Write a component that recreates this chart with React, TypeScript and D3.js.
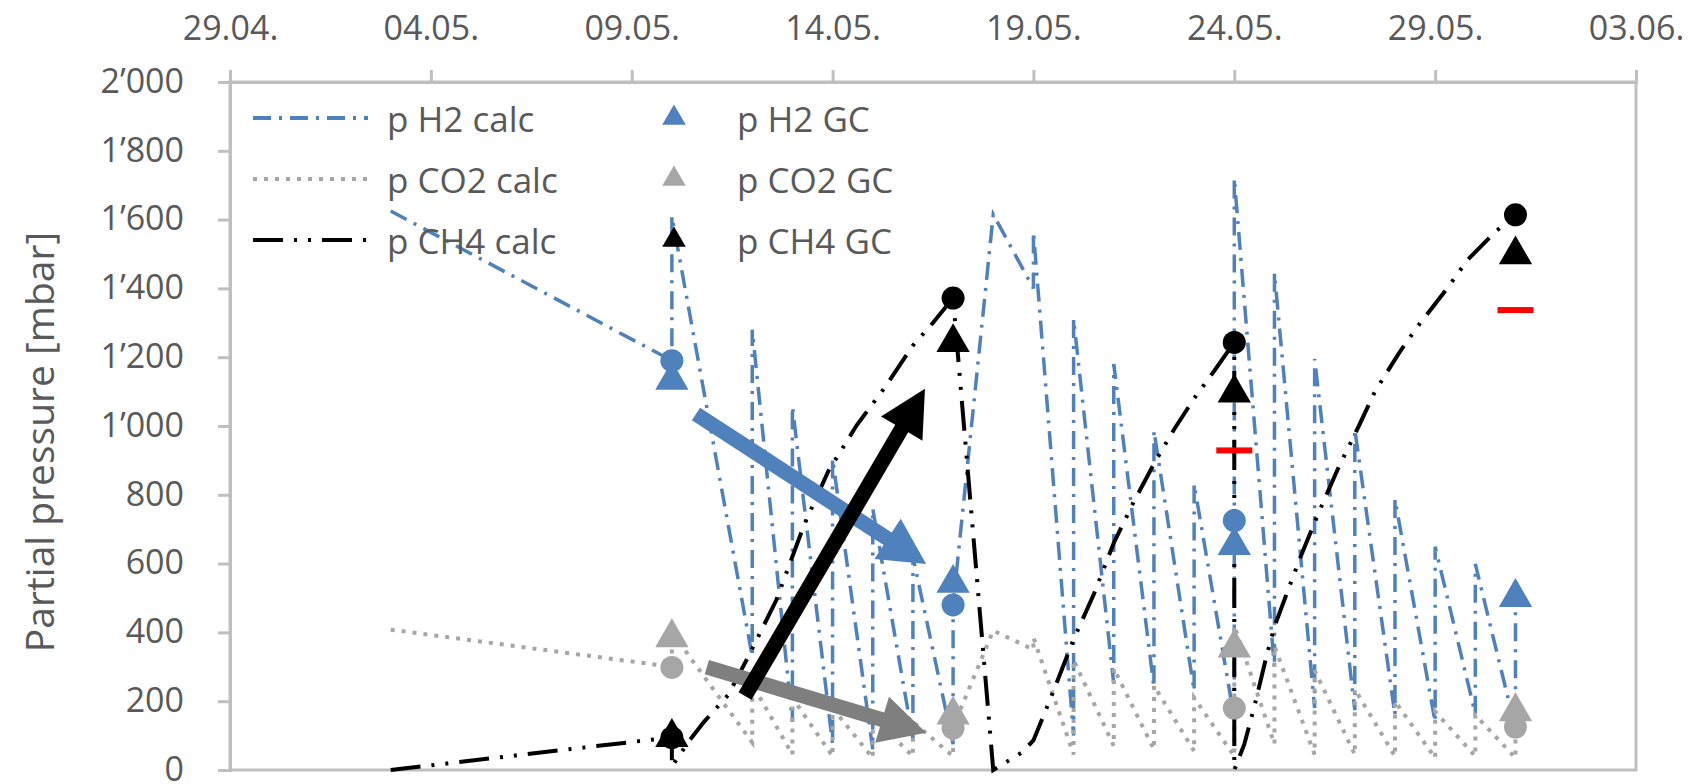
import React, { useEffect, useRef } from "react";
import * as d3 from "d3";

// all x values are days counted from 29.04.
const dateTicks = [0, 5, 10, 15, 20, 25, 30, 35];
const dateLabels = ["29.04.", "04.05.", "09.05.", "14.05.", "19.05.", "24.05.", "29.05.", "03.06."];
const pressureTicks = [0, 200, 400, 600, 800, 1000, 1200, 1400, 1600, 1800, 2000];

// calculated partial pressures [day, mbar]
const h2Calc = [
  [4, 1625], [11, 1190], [11, 1610], [13, 330], [13, 1280], [14, 140], [14, 1057],
  [15, 75], [15, 905], [16, 60], [16, 760], [17, 90], [17, 620], [18, 75], [18, 480],
  [19, 1615], [20, 1400], [20, 1565], [21, 100], [21, 1311], [22, 250], [22, 1180],
  [23, 240], [23, 986], [24, 230], [24, 831], [25, 150], [25, 1720], [26, 296], [26, 1444],
  [27, 180], [27, 1195], [28, 174], [28, 990], [29, 160], [29, 787], [30, 140], [30, 649],
  [31, 163], [31, 599], [32, 120], [32, 470],
];
const co2Calc = [
  [4, 408], [11, 300], [11, 400], [13, 80], [13, 250], [14, 45], [14, 210], [15, 40], [15, 180],
  [16, 35], [16, 155], [17, 40], [17, 140], [18, 40], [18, 125], [19, 405], [20, 350], [20, 385],
  [21, 45], [21, 320], [22, 70], [22, 295], [23, 60], [23, 245], [24, 55], [24, 210], [25, 40],
  [25, 180], [25, 420], [26, 75], [26, 360], [27, 45], [27, 290], [28, 45], [28, 235], [29, 40],
  [29, 200], [30, 35], [30, 170], [31, 40], [31, 160], [32, 35], [32, 125],
];
const ch4Calc = [
  [4, 0], [11, 95], [11, 10], [11.4, 80], [11.8, 140], [12.4, 218], [12.9, 329], [13.6, 494],
  [14.3, 715], [14.9, 870], [15.6, 1002], [16.3, 1112], [17, 1234], [17.5, 1300], [18, 1372],
  [19, 0], [19.7, 50], [20, 86], [20.5, 230], [21, 380], [21.5, 510], [22, 660], [22.5, 780],
  [23, 890], [23.5, 990], [24, 1080], [24.5, 1160], [25, 1243], [25, 0], [25.25, 75],
  [25.5, 185], [25.8, 330], [26, 417], [26.6, 605], [27.1, 748], [27.6, 881], [28.1, 1000],
  [28.5, 1100], [29.1, 1212], [29.6, 1295], [30.3, 1400], [30.8, 1482], [31.5, 1565], [32, 1612],
];

// sampling days 10.05., 17.05., 24.05., 31.05.
const sampleDays = [11, 18, 25, 32];
const h2GC = [1133, 543, 653, 502];
const co2GC = [385, 160, 355, 170];
const ch4GC = [95, 1243, 1096, 1498];
const h2Point = [1190, 480, 725];
const co2Point = [298, 122, 180, 125];
const ch4Point = [94, 1372, 1243, 1614];
const redDays = [25, 32];
const redValues = [929, 1337];

// annotation arrows [from, to] as [day, mbar]
const arrows = [
  { from: [11.6, 1035], to: [17.33, 599], color: "#4f81bd" },
  { from: [11.87, 299], to: [17.33, 108], color: "#7f7f7f" },
  { from: [12.82, 215], to: [17.3, 1108], color: "#000000" },
];

const BLUE = "#4f81bd";
const GREY = "#a6a6a6";
const TEXT = "#595959";
const AXIS = "#bfbfbf";
const FONT = "'Open Sans', sans-serif";

const legendRows = [
  { name: "p H2 calc", color: BLUE, dash: "18 8 3 8", marker: "p H2 GC" },
  { name: "p CO2 calc", color: GREY, dash: "4 7", marker: "p CO2 GC" },
  { name: "p CH4 calc", color: "#000", dash: "30 11 3 11 3 11", marker: "p CH4 GC" },
];

function arrowPath(x1: number, y1: number, x2: number, y2: number) {
  const sw = 15, hl = 46, hw = 48;
  const len = Math.hypot(x2 - x1, y2 - y1);
  const ux = (x2 - x1) / len, uy = (y2 - y1) / len;
  const nx = -uy, ny = ux;
  const bx = x2 - ux * hl, by = y2 - uy * hl;
  const p = [
    [x1 + nx * sw / 2, y1 + ny * sw / 2],
    [bx + nx * sw / 2, by + ny * sw / 2],
    [bx + nx * hw / 2, by + ny * hw / 2],
    [x2, y2],
    [bx - nx * hw / 2, by - ny * hw / 2],
    [bx - nx * sw / 2, by - ny * sw / 2],
    [x1 - nx * sw / 2, y1 - ny * sw / 2],
  ];
  return "M" + p.map((d) => d.join(",")).join("L") + "Z";
}

export default function App() {
  const ref = useRef<SVGSVGElement>(null);

  useEffect(() => {
    const svg = d3.select(ref.current);
    svg.selectAll("*").remove();

    const left = 230, right = 1636, top = 82, bottom = 770;
    const x = d3.scaleLinear().domain([0, 35]).range([left, right]);
    const y = d3.scaleLinear().domain([0, 2000]).range([bottom, top]);
    const fmt = d3.formatLocale({ decimal: ".", thousands: "\u2019", grouping: [3], currency: ["", ""] }).format(",");

    // plot frame
    svg.append("rect").attr("x", left).attr("y", top).attr("width", right - left).attr("height", bottom - top)
      .attr("fill", "none").attr("stroke", AXIS).attr("stroke-width", 3);

    // top date axis
    const xAxis = svg.append("g").attr("transform", `translate(0,${top})`)
      .call(d3.axisTop(x).tickValues(dateTicks).tickSize(12).tickPadding(30)
        .tickFormat((d, i) => dateLabels[i]));
    xAxis.select(".domain").attr("stroke", AXIS).attr("stroke-width", 3);
    xAxis.selectAll(".tick line").attr("stroke", AXIS).attr("stroke-width", 3);
    xAxis.selectAll("text").attr("fill", TEXT).style("font-family", FONT).style("font-size", "34px");

    const yAxis = svg.append("g").attr("transform", `translate(${left},0)`)
      .call(d3.axisLeft(y).tickValues(pressureTicks).tickSize(12).tickPadding(34)
        .tickFormat((d) => fmt(d as number)));
    yAxis.select(".domain").attr("stroke", AXIS).attr("stroke-width", 3);
    yAxis.selectAll(".tick line").attr("stroke", AXIS).attr("stroke-width", 3);
    yAxis.selectAll("text").attr("fill", TEXT).attr("dy", "0.3em")
      .style("font-family", FONT).style("font-size", "34px");

    svg.append("text")
      .attr("transform", "translate(38,442) rotate(-90)")
      .attr("text-anchor", "middle").attr("dominant-baseline", "central")
      .attr("fill", TEXT).style("font-family", FONT).style("font-size", "39px")
      .text("Partial pressure [mbar]");

    const line = d3.line<number[]>().x((d) => x(d[0])).y((d) => y(d[1]));
    const plot = svg.append("g");

    plot.append("path").attr("d", line(h2Calc)).attr("fill", "none").attr("stroke", BLUE)
      .attr("stroke-width", 3.5).attr("stroke-dasharray", "18 8 3 8");
    plot.append("path").attr("d", line(co2Calc)).attr("fill", "none").attr("stroke", GREY)
      .attr("stroke-width", 4).attr("stroke-dasharray", "4 7");
    plot.append("path").attr("d", line(ch4Calc)).attr("fill", "none").attr("stroke", "#000")
      .attr("stroke-width", 4).attr("stroke-dasharray", "30 11 3 11 3 11");

    const tri = d3.symbol().type(d3.symbolTriangle).size(480);
    const triSmall = d3.symbol().type(d3.symbolTriangle).size(240);

    const addTriangles = (vals: number[], color: string) =>
      plot.selectAll(null).data(vals).enter().append("path")
        .attr("d", tri)
        .attr("transform", (d, i) => `translate(${x(sampleDays[i])},${y(d)})`)
        .attr("fill", color);
    const addCircles = (vals: number[], color: string) =>
      plot.selectAll(null).data(vals).enter().append("circle")
        .attr("cx", (d, i) => x(sampleDays[i])).attr("cy", (d) => y(d)).attr("r", 11.5)
        .attr("fill", color);

    addTriangles(h2GC, BLUE);
    addTriangles(co2GC, GREY);
    addTriangles(ch4GC, "#000");
    addCircles(h2Point, BLUE);
    addCircles(co2Point, GREY);
    addCircles(ch4Point, "#000");

    plot.selectAll(null).data(redValues).enter().append("rect")
      .attr("x", (d, i) => x(redDays[i]) - 18).attr("y", (d) => y(d) - 3)
      .attr("width", 36).attr("height", 6).attr("fill", "#ff0000");

    // arrows
    svg.selectAll(null).data(arrows).enter().append("path")
      .attr("d", (a) => arrowPath(x(a.from[0]), y(a.from[1]), x(a.to[0]), y(a.to[1])))
      .attr("fill", (a) => a.color);

    // legend
    const lg = svg.append("g");
    legendRows.forEach((r, i) => {
      const ly = 118 + i * 61;
      lg.append("line").attr("x1", 253).attr("x2", 368).attr("y1", ly).attr("y2", ly)
        .attr("stroke", r.color).attr("stroke-width", 4).attr("stroke-dasharray", r.dash);
      lg.append("text").attr("x", 387).attr("y", ly).attr("dominant-baseline", "central")
        .attr("fill", TEXT).style("font-family", FONT).style("font-size", "35px").text(r.name);
      lg.append("path").attr("d", triSmall).attr("transform", `translate(674,${ly})`).attr("fill", r.color);
      lg.append("text").attr("x", 737).attr("y", ly).attr("dominant-baseline", "central")
        .attr("fill", TEXT).style("font-family", FONT).style("font-size", "35px").text(r.marker);
    });
  }, []);

  return (
    <svg ref={ref} width={1693} height={784}
      style={{ position: "absolute", left: 0, top: 0, background: "#fff" }} />
  );
}
